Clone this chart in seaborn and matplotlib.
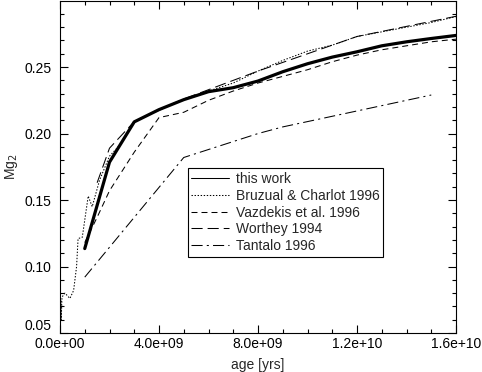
import numpy as np
import pandas as pd
import matplotlib
matplotlib.use("Agg")
import matplotlib.pyplot as plt
from matplotlib.ticker import MultipleLocator, FixedLocator, FuncFormatter
import seaborn as sns

# ---------------- data ----------------
this_age = [1e9, 2e9, 3e9, 4e9, 5e9, 6e9, 7e9, 8e9, 9e9, 10e9, 11e9, 12e9, 13e9, 14e9, 15e9, 16e9]
this_mg2 = [0.1135, 0.1785, 0.2088, 0.2180, 0.2255, 0.2315, 0.2345, 0.2395, 0.2465,
            0.2525, 0.2575, 0.2615, 0.2660, 0.2690, 0.2715, 0.2738]

bc_age = [0.0, 0.01e9, 0.03e9, 0.05e9, 0.08e9, 0.2e9, 0.4e9, 0.55e9, 0.67e9, 0.73e9, 0.9e9,
          1.14e9, 1.3e9, 1.6e9, 2.0e9, 2.5e9, 2.9e9, 3.0e9, 4e9, 5e9, 6e9, 7e9, 8e9, 9e9,
          10e9, 11e9, 12e9, 13e9, 14e9, 15e9, 16e9]
bc_mg2 = [0.050, 0.062, 0.075, 0.060, 0.077, 0.080, 0.076, 0.082, 0.100, 0.121, 0.122,
          0.153, 0.145, 0.165, 0.183, 0.193, 0.206, 0.209, 0.218, 0.226, 0.232, 0.238,
          0.247, 0.255, 0.262, 0.2665, 0.273, 0.2765, 0.280, 0.2835, 0.288]

vaz_age = [1e9, 1.5e9, 2e9, 3e9, 4e9, 5e9, 6e9, 7e9, 8e9, 9e9, 10e9, 11e9, 12e9, 13e9, 14e9, 15e9, 16e9]
vaz_mg2 = [0.118, 0.137, 0.157, 0.186, 0.212, 0.216, 0.225, 0.232, 0.238, 0.243, 0.248,
           0.254, 0.259, 0.263, 0.266, 0.269, 0.271]

wor_age = [1.5e9, 2e9, 3e9, 5e9, 8e9, 12e9, 17e9]
wor_mg2 = [0.163, 0.189, 0.209, 0.226, 0.247, 0.273, 0.292]

tan_age = [1e9, 5e9, 6e9, 7e9, 8e9, 9e9, 10e9, 11e9, 12e9, 13e9, 14e9, 15e9]
tan_mg2 = [0.092, 0.182, 0.188, 0.194, 0.200, 0.205, 0.209, 0.213, 0.217, 0.221, 0.225, 0.229]

labels = ["this work", "Bruzual & Charlot 1996", "Vazdekis et al. 1996",
          "Worthey 1994", "Tantalo 1996"]

x_major = [0.0, 4e9, 8e9, 1.2e10, 1.6e10]
y_major = [0.05, 0.10, 0.15, 0.20, 0.25]

# ---------------- style ----------------
sns.set_style("ticks")
plt.rcParams["font.family"] = ["Liberation Sans", "DejaVu Sans"]
plt.rcParams["lines.scale_dashes"] = False
plt.rcParams["axes.linewidth"] = 0.8

fig = plt.figure(figsize=(4.82, 3.72), dpi=100)
ax = fig.add_axes([60 / 482, 39 / 372, 396 / 482, 332 / 372])

series = [
    (this_age, this_mg2, labels[0], "-", 2.3),
    (bc_age, bc_mg2, labels[1], (0, (1.0, 1.2)), 0.75),
    (vaz_age, vaz_mg2, labels[2], (0, (4.3, 2.9)), 0.75),
    (wor_age, wor_mg2, labels[3], (0, (8.0, 3.6)), 0.75),
    (tan_age, tan_mg2, labels[4], (0, (8.0, 3.0, 1.5, 3.0)), 0.75),
]

for xs, ys, lab, ls, lw in series:
    df = pd.DataFrame({"age": xs, "mg2": ys})
    sns.lineplot(data=df, x="age", y="mg2", ax=ax, color="black", linestyle=ls,
                 linewidth=lw, label=lab, estimator=None, sort=False)

ax.set_xlim(0, 1.6e10)
ax.set_ylim(0.05, 0.2997)

ax.xaxis.set_major_locator(FixedLocator(x_major))
ax.xaxis.set_minor_locator(MultipleLocator(1e9))
ax.xaxis.set_major_formatter(FuncFormatter(lambda v, p: f"{v:.1e}"))
ax.yaxis.set_major_locator(FixedLocator(y_major))
ax.yaxis.set_minor_locator(MultipleLocator(0.01))
ax.yaxis.set_major_formatter(FuncFormatter(lambda v, p: f"{v:.2f}"))

ax.tick_params(which="both", direction="in", top=True, right=True, colors="black",
               labelsize=10, width=0.8)
ax.tick_params(which="major", length=5.5)
ax.tick_params(which="minor", length=3)
ax.tick_params(axis="x", which="major", pad=3)
ax.tick_params(axis="y", which="major", pad=6)

ax.set_xlabel("age [yrs]", fontsize=10, labelpad=5)
ax.set_ylabel("Mg$_2$", fontsize=10, labelpad=3)

# lowest y label sits on the axis line (as in the reference)
fig.canvas.draw()
ylabs = ax.get_yticklabels()
if ylabs:
    ylabs[0].set_verticalalignment("bottom")

for sp in ax.spines.values():
    sp.set_color("black")

leg = ax.legend(loc="upper left", bbox_to_anchor=(0.323, 0.4955), fontsize=10,
                frameon=True, fancybox=False, shadow=False, framealpha=1,
                edgecolor="black", handlelength=2.7, handletextpad=0.5,
                labelspacing=0.2, borderpad=0.25, borderaxespad=0)
leg.get_frame().set_linewidth(0.8)
for ln in leg.get_lines():
    ln.set_linewidth(0.75)

fig.savefig("out.png", dpi=100, facecolor="white")
